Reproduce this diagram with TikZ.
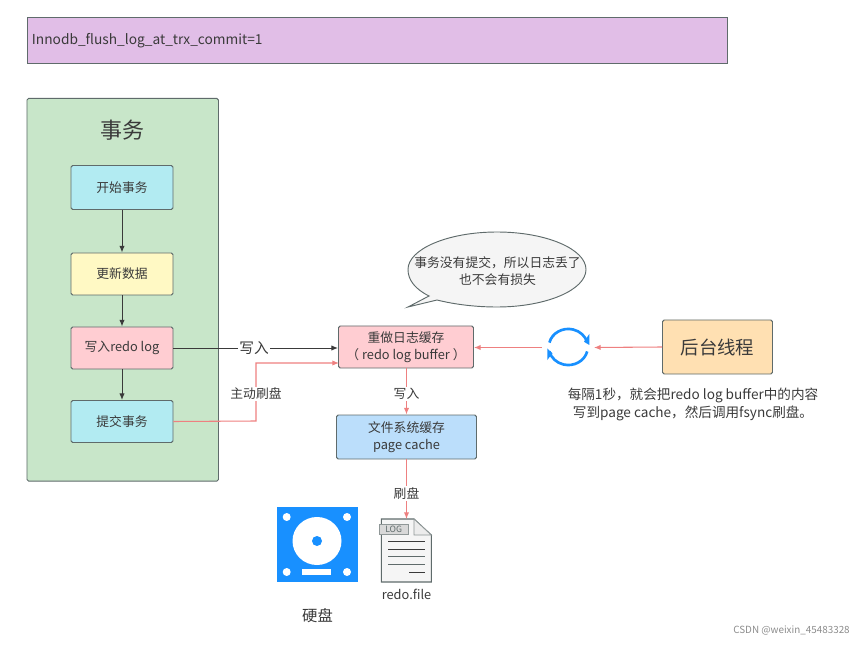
\documentclass[tikz,border=0pt]{standalone}
\usepackage{fontspec}
\setmainfont{Noto Sans CJK SC}
\usetikzlibrary{arrows.meta,positioning,calc}
\definecolor{edge}{HTML}{5F6B6B}
\definecolor{redline}{HTML}{EE8080}
\definecolor{ink}{HTML}{3A3A3A}
\definecolor{diskblue}{HTML}{1890FF}
\tikzset{
  x=0.75pt,y=-0.75pt,
  every node/.style={text=ink,font=\fontsize{9.6}{12.5}\selectfont,inner sep=0pt,align=center},
  box/.style={draw=edge,line width=0.7pt,rounded corners=1.2pt,minimum width=#1*0.75pt},
  box/.default=102,
  darkflow/.style={draw=ink,line width=0.7pt,-{Latex[length=5pt,width=4pt]}},
  redflow/.style={draw=redline,line width=0.8pt,-{Latex[length=5pt,width=4pt]}},
  lab/.style={fill=white,inner sep=1pt},
}
\begin{document}
\begin{tikzpicture}
\useasboundingbox (0,0) rectangle (864,645);

% parameter banner
\node[box=700.5,fill={rgb,255:red,225;green,190;blue,231},minimum height=34.5pt,anchor=north west,text width=690.5*0.75pt,align=left,font=\fontsize{10.3}{13}\selectfont,inner xsep=3.75pt,rounded corners=0pt] (banner) at (26.5,17) {Innodb\_flush\_log\_at\_trx\_commit=1};

% transaction panel
\node[box=191.5,fill={rgb,255:red,200;green,230;blue,201},minimum height=287pt,anchor=north west] (panel) at (26.5,98) {};
\node[font=\fontsize{16.5}{20}\selectfont] (paneltitle) at (122,130) {事务};

% transaction steps
\node[box,fill={rgb,255:red,178;green,235;blue,242},minimum height=33pt] (begin) at (122,187.5) {开始事务};
\node[box,fill={rgb,255:red,255;green,249;blue,196},minimum height=31.5pt] (update) at (122,274) {更新数据};
\node[box,fill={rgb,255:red,255;green,205;blue,210},minimum height=31.5pt] (write) at (122,348) {写入redo log};
\node[box,fill={rgb,255:red,178;green,235;blue,242},minimum height=31.5pt] (commit) at (122,421.5) {提交事务};

\draw[darkflow] (begin) -- (update);
\draw[darkflow] (update) -- (write);
\draw[darkflow] (write) -- (commit);

% buffers
\node[box=135,fill={rgb,255:red,255;green,205;blue,210},minimum height=31.5pt] (redobuf) at (406,347) {重做日志缓存\\（ redo log buffer ）};
\node[box=140,fill={rgb,255:red,187;green,222;blue,251},minimum height=33pt] (cache) at (406.5,437) {文件系统缓存\\page cache};

% writes from the transaction into the buffer
\draw[darkflow] (write.east) -- (write.east -| redobuf.west) node[pos=0.49,lab,font=\fontsize{11}{13}\selectfont] (writelab) {写入};
\coordinate (bend1) at (256,421);
\coordinate (bend2) at (256,363);
\coordinate (flushin) at (339,363);
\draw[redflow] (commit.east) -- (bend1) -- (bend2) -- (flushin);
\node[lab] (flushlab) at (256,394) {主动刷盘};

% speech bubble
\draw[draw=edge,line width=0.7pt,fill={rgb,255:red,245;green,245;blue,245}]
  (429,296) .. controls (415,289) and (408,280) .. (408,269.5)
  .. controls (408,249) and (448,232) .. (497,232)
  .. controls (546,232) and (586,249) .. (586,269.5)
  .. controls (586,290) and (546,307) .. (497,307)
  .. controls (476,307) and (455,304.5) .. (437,300)
  -- (408,307) -- cycle;
\node (bubbletext) at (497.5,271) {事务没有提交，所以日志丢了\\也不会有损失};

% periodic loop icon
\draw[diskblue,line width=2pt] (549.4,342.6) arc[start angle=194,end angle=346,x radius=19.5,y radius=18];
\draw[diskblue,line width=2pt] (587.2,351.4) arc[start angle=14,end angle=166,x radius=19.5,y radius=18];
\fill[diskblue] (589.3,334) -- (589.3,345) -- (584,341.7) -- cycle;
\fill[diskblue] (547.3,348.5) -- (547.3,360) -- (552.5,353.3) -- cycle;

% background thread
\node[box=110,fill={rgb,255:red,255;green,224;blue,178},minimum height=40.5pt,font=\fontsize{13.8}{16}\selectfont] (thread) at (717.5,347) {后台线程};
\node[font=\fontsize{10.2}{13.5}\selectfont] (threadnote) at (693,404.5) {每隔1秒，就会把redo log buffer中的内容\\写到page cache，然后调用fsync刷盘。};

\coordinate (loopin) at (594,347.5);
\coordinate (loopout) at (541.5,347.5);
\draw[redflow] (thread.west) -- (loopin);
\draw[redflow] (loopout) -- (redobuf.east |- loopout);

% hard disk icon
\fill[diskblue] (276.7,507.3) rectangle (357.7,581.7);
\fill[white] (286.7,517) circle[radius=4] (347,517) circle[radius=4] (286.7,572) circle[radius=4] (347,572) circle[radius=4];
\fill[white] (317,541) circle[x radius=24.5,y radius=24];
\fill[diskblue] (317,541) circle[radius=5];
\fill[white] (302,569) rectangle (331,575);
\node[font=\fontsize{11.5}{14}\selectfont] (disklab) at (317.5,615.5) {硬盘};

% log file icon
\coordinate (filetop) at (406.5,519);
\draw[draw=edge,line width=0.8pt,fill={rgb,255:red,245;green,245;blue,245}] (381.3,519) -- (414,519) -- (431.3,535) -- (431.3,582) -- (381.3,582) -- cycle;
\draw[draw=edge!70,line width=0.6pt,fill={rgb,255:red,236;green,236;blue,236}] (414,519) -- (431.3,535) -- (414,535) -- cycle;
\node[draw=edge!70,line width=0.5pt,fill={rgb,255:red,216;green,216;blue,216},minimum width=21.5pt,minimum height=7.3pt,font=\fontsize{6.5}{8}\selectfont,text=edge] (loglabel) at (393.7,529) {LOG};
\draw[line width=0.6pt,draw=ink] (388,541.7) -- (425,541.7) (388,549) -- (425,549);
\draw[line width=0.6pt,draw=edge] (388,556.7) -- (425,556.7) (388,564.7) -- (425,564.7);
\draw[line width=0.6pt,draw=ink] (409,572.3) -- (425,572.3);
\node (filename) at (406.5,594) {redo.file};

% flow down to disk
\draw[redflow] (redobuf.south -| cache.north) -- (cache.north) node[pos=0.55,lab] (wlab2) {写入};
\draw[redflow] (cache.south) -- (filetop) node[pos=0.57,lab] (flab2) {刷盘};

% source watermark
\node[font=\fontsize{7.4}{9}\selectfont,text=black!45] (mark) at (791.5,631) {CSDN @weixin\_45483328};
\end{tikzpicture}
\end{document}
